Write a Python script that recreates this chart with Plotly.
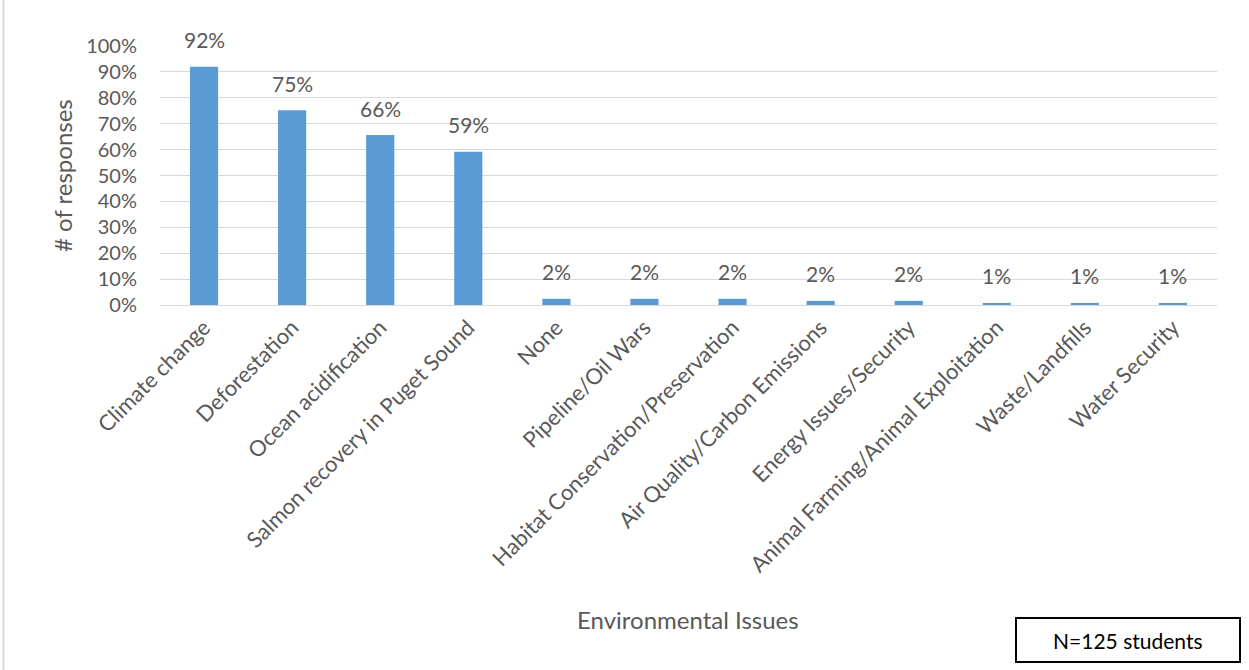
import plotly.graph_objects as go

categories = ["Climate change", "Deforestation", "Ocean acidification",
              "Salmon recovery in Puget Sound", "None", "Pipeline/Oil Wars",
              "Habitat Conservation/Preservation", "Air Quality/Carbon Emissions",
              "Energy Issues/Security", "Animal Farming/Animal Exploitation",
              "Waste/Landfills", "Water Security"]
values = [0.92, 0.752, 0.656, 0.592, 0.024, 0.024, 0.024, 0.016, 0.016, 0.008, 0.008, 0.008]
labels = [f"{round(v * 100)}%" for v in values]

W, H = 1249, 670
L, R, T, B = 160, 32, 46, 365
TXT = "#595959"
FONT = "Lato"

fig = go.Figure()
fig.add_trace(go.Bar(x=categories, y=values, marker=dict(color="#5B9BD5", line=dict(width=0)),
                     hoverinfo="x+y"))

for c, v, t in zip(categories, values, labels):
    fig.add_annotation(x=c, y=v, text=t, showarrow=False, yanchor="middle", yshift=27,
                       font=dict(family=FONT, size=21, color=TXT))

pw = W - L - R
ph = H - T - B
def px(x):
    return (x - L) / pw
def py(y):
    return (H - B - y) / ph

# axis titles
fig.add_annotation(xref="paper", yref="paper", x=px(688), y=py(619), text="Environmental Issues",
                   showarrow=False, xanchor="center", yanchor="middle",
                   font=dict(family=FONT, size=24, color=TXT))
fig.add_annotation(xref="paper", yref="paper", x=px(62), y=py(176), text="# of responses",
                   showarrow=False, xanchor="center", yanchor="middle", textangle=-90,
                   font=dict(family=FONT, size=24, color=TXT))
# N box
fig.add_shape(type="rect", xref="paper", yref="paper", x0=px(1016), x1=px(1240), y0=py(662), y1=py(618),
              line=dict(color="black", width=2), fillcolor="white")
fig.add_annotation(xref="paper", yref="paper", x=px(1128), y=py(640), text="N=125 students",
                   showarrow=False, xanchor="center", yanchor="middle",
                   font=dict(family=FONT, size=21, color="black"))
# left chart border
fig.add_shape(type="line", xref="paper", yref="paper", x0=px(3.5), x1=px(3.5), y0=py(0), y1=py(670),
              line=dict(color="#D9D9D9", width=2))

fig.update_layout(
    width=W, height=H,
    margin=dict(l=L, r=R, t=T, b=B, pad=0),
    plot_bgcolor="white", paper_bgcolor="white",
    bargap=0.68, showlegend=False,
    font=dict(family=FONT, color=TXT),
)
fig.update_xaxes(tickangle=-45, tickfont=dict(family=FONT, size=22, color=TXT),
                 showgrid=False, showline=True, linecolor="#D9D9D9", linewidth=1, ticks="")
fig.update_yaxes(range=[0, 1], dtick=0.1, tickformat=".0%", showgrid=True, gridcolor="#D9D9D9",
                 gridwidth=1, zeroline=False, showline=False, ticks="", ticklabelstandoff=22,
                 tickfont=dict(family=FONT, size=20, color=TXT))

fig.write_html("out.html", config={"displayModeBar": False},
               post_script="document.body.style.margin='0';document.body.style.overflow='hidden';")
